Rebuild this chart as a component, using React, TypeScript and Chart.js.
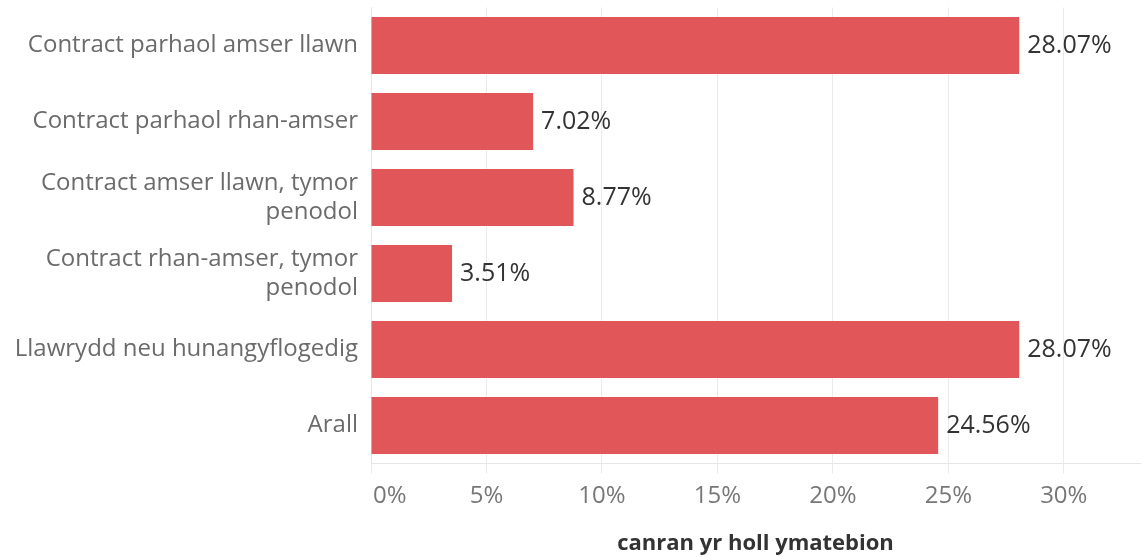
import React, { useEffect, useRef } from "react";
import { Chart, registerables } from "chart.js";

Chart.register(...registerables);

const categories: (string | string[])[] = [
  "Contract parhaol amser llawn",
  "Contract parhaol rhan-amser",
  ["Contract amser llawn, tymor", "penodol"],
  ["Contract rhan-amser, tymor", "penodol"],
  "Llawrydd neu hunangyflogedig",
  "Arall",
];
const values: number[] = [28.07, 7.02, 8.77, 3.51, 28.07, 24.56];
const xTicks: number[] = [0, 5, 10, 15, 20, 25, 30];
const axisTitle = "canran yr holl ymatebion";

const FONT = "'Open Sans', sans-serif";

const labelsPlugin = {
  id: "customLabels",
  afterDraw(chart: any) {
    const ctx = chart.ctx;
    const meta = chart.getDatasetMeta(0);
    ctx.save();
    ctx.font = `25px ${FONT}`;
    ctx.fillStyle = "#333333";
    ctx.textAlign = "left";
    ctx.textBaseline = "middle";
    meta.data.forEach((bar: any, i: number) => {
      ctx.fillText(values[i].toFixed(2) + "%", bar.x + 8, bar.y);
    });
    const xs = chart.scales.x;
    ctx.fillStyle = "#777777";
    ctx.font = `24px ${FONT}`;
    xTicks.forEach((t, i) => {
      const px = xs.getPixelForValue(t);
      ctx.textAlign = i === 0 ? "left" : "center";
      ctx.fillText(t + "%", i === 0 ? px + 2 : px, 496);
    });
    ctx.restore();
  },
};

export default function App() {
  const ref = useRef<HTMLCanvasElement>(null);
  useEffect(() => {
    if (!ref.current) return;
    const chart = new Chart(ref.current, {
      type: "bar",
      data: {
        labels: categories,
        datasets: [
          {
            data: values,
            backgroundColor: "#E15759",
            categoryPercentage: 1,
            barPercentage: 0.75,
          },
        ],
      },
      options: {
        indexAxis: "y",
        animation: false,
        responsive: false,
        layout: { padding: { top: 7.5, right: 2, bottom: 0, left: 0 } },
        plugins: {
          legend: { display: false },
          tooltip: { enabled: false },
        },
        scales: {
          x: {
            min: 0,
            max: 33.3,
            ticks: { display: false, stepSize: 5, includeBounds: false },
            grid: {
              color: "#ebebeb",
              tickLength: 10,
              tickColor: "#ebebeb",
            },
            border: { color: "#e6e6e6" },
            title: {
              display: true,
              text: axisTitle,
              color: "#333333",
              font: { family: FONT, size: 22, weight: "bold", lineHeight: 1.2 },
              padding: { top: 0, bottom: 0 },
            },
            afterFit(scale: any) {
              scale.height = 557 - 463.5;
              scale.paddingLeft = 0;
              scale.paddingRight = 0;
            },
          },
          y: {
            grid: { display: false, drawTicks: false },
            border: { color: "#e6e6e6" },
            ticks: {
              color: "#6b6b6b",
              padding: 13,
              font: { family: FONT, size: 24, lineHeight: 1.2 },
            },
            afterFit(scale: any) {
              scale.width = 371;
              scale.paddingTop = 0;
              scale.paddingBottom = 0;
            },
          },
        },
      },
      plugins: [labelsPlugin],
    });
    return () => chart.destroy();
  }, []);
  return (
    <div style={{ position: "absolute", left: 0, top: 0, width: 1142, height: 557, background: "#fff" }}>
      <canvas ref={ref} width={1142} height={557} />
    </div>
  );
}
